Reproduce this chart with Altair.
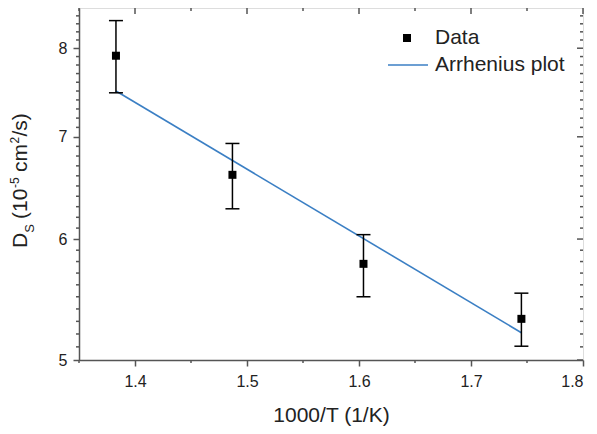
import altair as alt
import pandas as pd

# ---- data ----
x_vals = [1.383, 1.487, 1.604, 1.745]
d_vals = [7.91, 6.61, 5.78, 5.32]
err_hi = [8.34, 6.93, 6.04, 5.53]
err_lo = [7.48, 6.28, 5.50, 5.105]
fit_x = [1.383, 1.745]
fit_y = [7.50, 5.21]

x_major = [1.4, 1.5, 1.6, 1.7, 1.8]
x_minor = [1.35, 1.45, 1.55, 1.65, 1.75]
y_major = [5, 6, 7, 8]
y_minor = [5.1, 5.2, 5.3, 5.4, 5.5, 5.6, 5.7, 5.8, 5.9,
           6.1, 6.2, 6.3, 6.4, 6.5, 6.6, 6.7, 6.8, 6.9,
           7.1, 7.2, 7.3, 7.4, 7.5, 7.6, 7.7, 7.8, 7.9,
           8.1, 8.2, 8.3, 8.4]

W, H = 504, 352
FONT = "Liberation Sans"
TXT = "#222222"
AX = "#555555"
BLUE = "#3b7fc4"

df = pd.DataFrame({"x": x_vals, "d": d_vals, "hi": err_hi, "lo": err_lo})
fit = pd.DataFrame({"x": fit_x, "d": fit_y})

xs = alt.Scale(domain=[1.35, 1.8], nice=False, zero=False)
ys = alt.Scale(type="log", domain=[5, 8.5], nice=False)

x_axis = alt.Axis(values=x_major, format=".1f", title="1000/T (1/K)", grid=False,
                  tickSize=6, tickWidth=1.5, tickColor=AX, domainColor=AX, domainWidth=1.5,
                  labelFontSize=16, labelFont=FONT, labelColor=TXT, labelPadding=7,
                  titleFontSize=21, titleFont=FONT, titleColor=TXT, titleFontWeight="normal",
                  titlePadding=15)
y_axis = alt.Axis(values=y_major, format="d", title="", grid=False,
                  tickSize=6, tickWidth=1.5, tickColor=AX, domainColor=AX, domainWidth=1.5,
                  labelFontSize=16, labelFont=FONT, labelColor=TXT, labelPadding=6)

base = alt.Chart(df)
points = base.mark_square(size=64, color="black", opacity=1).encode(
    x=alt.X("x:Q", scale=xs, axis=x_axis),
    y=alt.Y("d:Q", scale=ys, axis=y_axis),
)
bars = base.mark_rule(color="black", strokeWidth=1.5).encode(
    x=alt.X("x:Q", scale=xs),
    y=alt.Y("lo:Q", scale=ys),
    y2="hi:Q",
)
cap_hi = base.mark_tick(orient="horizontal", size=14, thickness=1.5, color="black", opacity=1).encode(
    x=alt.X("x:Q", scale=xs), y=alt.Y("hi:Q", scale=ys))
cap_lo = base.mark_tick(orient="horizontal", size=14, thickness=1.5, color="black", opacity=1).encode(
    x=alt.X("x:Q", scale=xs), y=alt.Y("lo:Q", scale=ys))
line = alt.Chart(fit).mark_line(color=BLUE, strokeWidth=1.6).encode(
    x=alt.X("x:Q", scale=xs), y=alt.Y("d:Q", scale=ys))

# ---- tick marks on the frame ----
xmaj = pd.DataFrame({"x": x_major})
xmin = pd.DataFrame({"x": x_minor})
ymaj = pd.DataFrame({"d": y_major})
ymin = pd.DataFrame({"d": y_minor})

def xt(data, y1, y2):
    return alt.Chart(data).mark_rule(color=AX, strokeWidth=1.5).encode(
        x=alt.X("x:Q", scale=xs), y=alt.value(y1), y2=alt.value(y2))

def yt(data, x1, x2):
    return alt.Chart(data).mark_rule(color=AX, strokeWidth=1.5).encode(
        y=alt.Y("d:Q", scale=ys), x=alt.value(x1), x2=alt.value(x2))

ticks = [
    xt(xmaj, 0, 6), xt(xmin, 0, 3), xt(xmin, H, H + 3),
    yt(ymaj, W, W - 6), yt(ymin, W, W - 3), yt(ymin, -3, 0),
]

one = pd.DataFrame({"a": [0]})

def txt(s, size, x, y, angle=0, baseline="middle"):
    kw = dict(text=s, fontSize=size, font=FONT, color=TXT, align="left", baseline=baseline)
    if angle:
        kw["angle"] = angle
    return alt.Chart(one).mark_text(**kw).encode(x=alt.value(x), y=alt.value(y))

# ---- legend ----
legend = [
    alt.Chart(one).mark_square(size=64, color="black", opacity=1).encode(
        x=alt.value(328), y=alt.value(30)),
    alt.Chart(one).mark_rule(color=BLUE, strokeWidth=1.6).encode(
        x=alt.value(309), x2=alt.value(349), y=alt.value(57)),
    txt("Data", 21, 356, 30),
    txt("Arrhenius plot", 21, 356, 57),
]

# ---- y-axis title with sub/superscripts ----
ytitle = [
    txt("D", 21, -52, 240, 270, "alphabetic"),
    txt("S", 13, -45, 224.8, 270, "alphabetic"),
    txt("(10", 21, -52, 211, 270, "alphabetic"),
    txt("-5", 12, -60, 180, 270, "alphabetic"),
    txt("cm", 21, -52, 164, 270, "alphabetic"),
    txt("2", 12, -60, 135.5, 270, "alphabetic"),
    txt("/s)", 21, -52, 128.5, 270, "alphabetic"),
]

chart = alt.layer(line, bars, cap_hi, cap_lo, points, *ticks, *legend, *ytitle).properties(
    width=W, height=H,
    autosize=alt.AutoSizeParams(type="none"),
    padding={"left": 71, "top": 0, "right": 6, "bottom": 66},
).configure_view(stroke=AX, strokeWidth=1.5).configure(background="white")

chart.save("out.html", embed_options={"renderer": "svg", "actions": False})
